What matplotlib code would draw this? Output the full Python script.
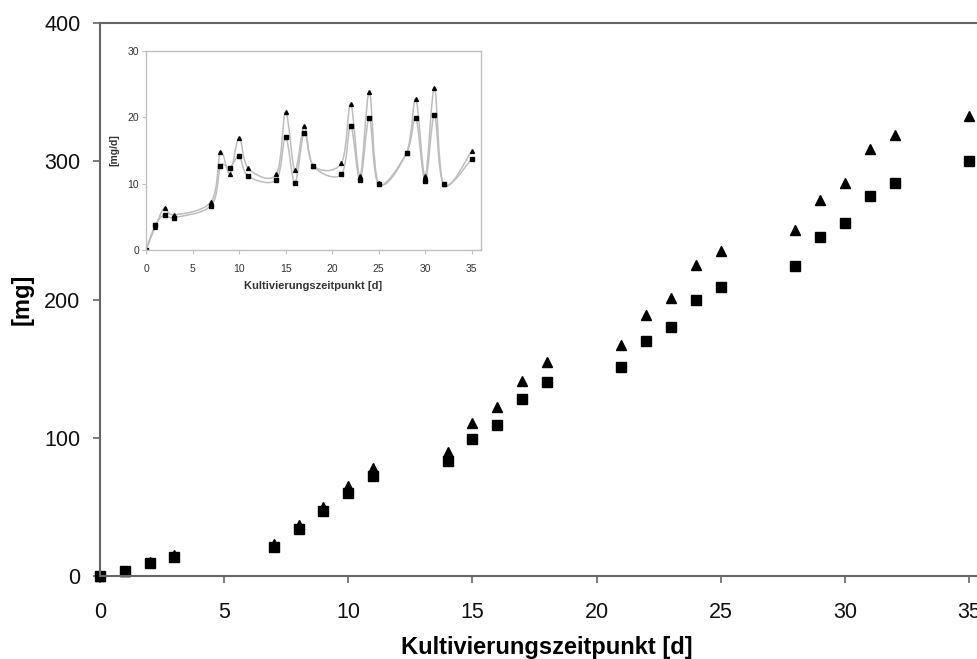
import matplotlib
matplotlib.use('Agg')
import matplotlib.pyplot as plt
from matplotlib.path import Path
from matplotlib.patches import PathPatch

plt.rcParams['font.family'] = ['Liberation Sans', 'DejaVu Sans']

# Kultivierungstage
tage = [0, 1, 2, 3, 7, 8, 9, 10, 11, 14, 15, 16, 17, 18, 21, 22, 23, 24, 25, 28, 29, 30, 31, 32, 35]

# kumulierte Menge [mg]
kum_quadrat = [0, 4, 9.5, 14, 21, 34, 47, 60, 72, 83, 99, 109, 128, 140, 151, 170, 180, 200, 209,
               224, 245, 255, 275, 284, 300]
kum_dreieck = [0, 4, 10, 15, 23, 37, 50, 65, 78, 90, 111, 122, 141, 155, 167, 189, 201, 225, 235,
               250, 272, 284, 309, 319, 333]

# Rate [mg/d] (Inset)
rate_quadrat = [0, 3.8, 5.3, 4.9, 6.7, 12.6, 12.4, 14.1, 11.1, 10.6, 17.0, 10.1, 17.7, 12.6, 11.4,
                18.7, 10.5, 19.9, 9.9, 14.6, 19.9, 10.4, 20.3, 9.9, 13.7]
rate_dreieck = [0, 3.5, 6.4, 5.3, 7.3, 14.8, 11.5, 16.9, 12.3, 11.4, 20.8, 12.0, 18.7, 12.7, 13.1,
                22.0, 11.1, 23.8, 10.1, 14.7, 22.7, 11.1, 24.4, 9.9, 14.9]


def smooth_line(ax, xs, ys, **kw):
    # Excel-artige geglaettete Linie (Catmull-Rom -> Bezier)
    n = len(xs)
    verts = [(xs[0], ys[0])]
    codes = [Path.MOVETO]
    for i in range(n - 1):
        x0, y0 = (xs[i - 1], ys[i - 1]) if i > 0 else (xs[i], ys[i])
        x1, y1 = xs[i], ys[i]
        x2, y2 = xs[i + 1], ys[i + 1]
        x3, y3 = (xs[i + 2], ys[i + 2]) if i + 2 < n else (x2, y2)
        c1 = (x1 + (x2 - x0) / 6.0, y1 + (y2 - y0) / 6.0)
        c2 = (x2 - (x3 - x1) / 6.0, y2 - (y3 - y1) / 6.0)
        verts += [c1, c2, (x2, y2)]
        codes += [Path.CURVE4] * 3
    ax.add_patch(PathPatch(Path(verts, codes), fill=False, **kw))


fig = plt.figure(figsize=(9.78, 6.59), dpi=100)
# die Achse reicht rechts ueber den Bildrand hinaus (Original ist beschnitten)
ax = fig.add_axes([0.1022, 0.1259, 0.9141, 0.8392])

ax.plot(tage, kum_quadrat, 's', color='black', markersize=6.5, linestyle='none')
ax.plot(tage, kum_dreieck, '^', color='black', markersize=7.2, linestyle='none')

ax.set_xlim(0, 36)
ax.set_ylim(0, 400)
ax.set_xticks(range(0, 36, 5))
ax.set_yticks(range(0, 401, 100))
ax.spines['right'].set_visible(False)
for s in ['left', 'bottom', 'top']:
    ax.spines[s].set_color('#666666')
    ax.spines[s].set_linewidth(1.5)
ax.tick_params(axis='both', direction='out', length=5, width=1.2, color='#666666',
               labelsize=15.5, labelcolor='#111111')
ax.tick_params(axis='x', pad=14)
ax.tick_params(axis='y', pad=9)
ax.set_xlabel('Kultivierungszeitpunkt [d]', fontsize=17, fontweight='bold', labelpad=9)
ax.set_ylabel('[mg]', fontsize=17, fontweight='bold', labelpad=8)
for m in ax.get_lines():
    m.set_clip_on(False)

# Inset: Rate
ins = fig.add_axes([0.1493, 0.6206, 0.3425, 0.3020])
smooth_line(ins, tage, rate_dreieck, edgecolor='#bdbdbd', linewidth=1.1)
smooth_line(ins, tage, rate_quadrat, edgecolor='#bdbdbd', linewidth=1.1)
ins.plot(tage, rate_quadrat, 's', color='black', markersize=2.6, linestyle='none')
ins.plot(tage, rate_dreieck, '^', color='black', markersize=2.8, linestyle='none')
ins.set_xlim(0, 36)
ins.set_ylim(0, 30)
ins.set_xticks(range(0, 36, 5))
ins.set_yticks([0, 10, 20, 30])
for s in ins.spines.values():
    s.set_color('#c0c0c0')
    s.set_linewidth(1.0)
ins.tick_params(axis='both', direction='out', length=3, width=0.8, color='#c0c0c0',
                labelsize=7.5, labelcolor='#333333')
ins.tick_params(axis='x', pad=7)
ins.tick_params(axis='y', pad=2)
ins.set_xlabel('Kultivierungszeitpunkt [d]', fontsize=8, fontweight='bold', labelpad=5,
               color='#333333')
ins.set_ylabel('[mg/d]', fontsize=7.5, fontweight='bold', labelpad=6, color='#333333')

fig.savefig('out.png', dpi=100)
